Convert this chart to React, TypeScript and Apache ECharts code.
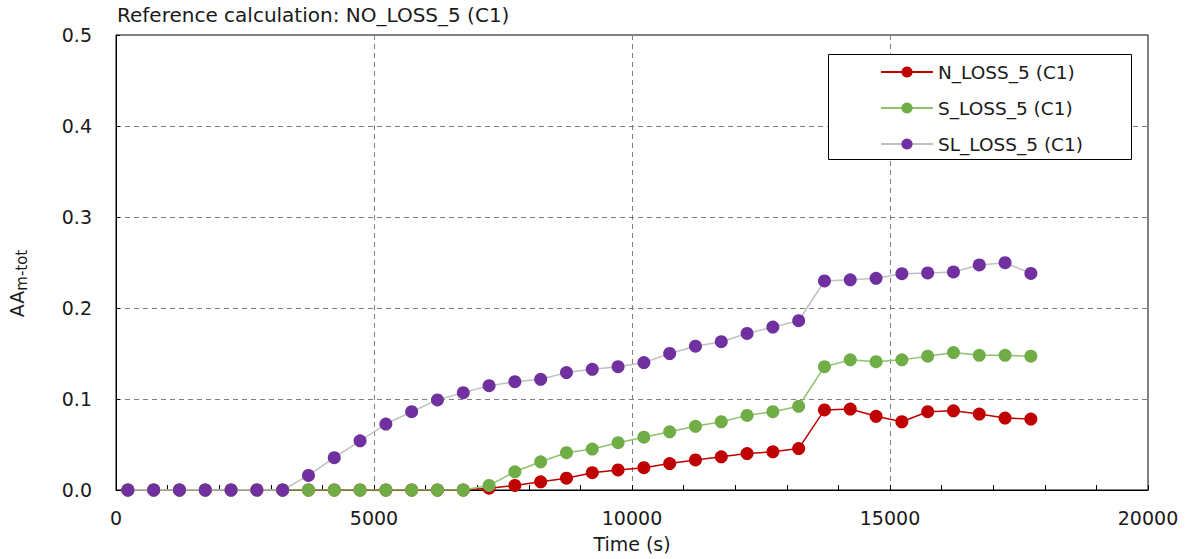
import { useEffect, useRef } from "react";
import * as echarts from "echarts";

// Sampling times (s)
const timeS = [
  230, 730, 1230, 1730, 2230, 2730, 3230, 3730, 4230, 4730, 5230, 5730,
  6230, 6730, 7230, 7730, 8230, 8730, 9230, 9730, 10230, 10730, 11230, 11730,
  12230, 12730, 13230, 13730, 14230, 14730, 15230, 15730, 16230, 16730, 17230, 17730,
];

// AA m-tot values per case
const nLoss = [
  0, 0, 0, 0, 0, 0, 0, 0, 0, 0, 0, 0,
  0, 0, 0.002, 0.005, 0.009, 0.013, 0.019, 0.022, 0.0245, 0.029, 0.033, 0.0365,
  0.04, 0.042, 0.0455, 0.088, 0.089, 0.081, 0.075, 0.086, 0.087, 0.0835, 0.079, 0.078,
];
const sLoss = [
  0, 0, 0, 0, 0, 0, 0, 0, 0, 0, 0, 0,
  0, 0, 0.005, 0.02, 0.031, 0.041, 0.045, 0.052, 0.058, 0.064, 0.07, 0.075,
  0.082, 0.086, 0.092, 0.1355, 0.143, 0.141, 0.143, 0.147, 0.151, 0.148, 0.148, 0.147,
];
const slLoss = [
  0, 0, 0, 0, 0, 0, 0, 0.016, 0.0355, 0.054, 0.0725, 0.086,
  0.099, 0.107, 0.1146, 0.119, 0.1216, 0.129, 0.1326, 0.1355, 0.14, 0.15, 0.158, 0.163,
  0.172, 0.179, 0.186, 0.2297, 0.231, 0.2326, 0.2377, 0.2385, 0.2396, 0.2473, 0.2498, 0.238,
];

const seriesNames = ["N_LOSS_5 (C1)", "S_LOSS_5 (C1)", "SL_LOSS_5 (C1)"];
const seriesValues = [nLoss, sLoss, slLoss];
const markerColors = ["#c00000", "#70ad47", "#7030a0"];
const lineColors = ["#c00000", "#8cc46b", "#c0c0c0"];

const FONT = "'DejaVu Sans', 'Noto Sans', sans-serif";
const TEXT = "#1a1a1a";

export default function App() {
  const ref = useRef<HTMLDivElement | null>(null);

  useEffect(() => {
    if (!ref.current) return;
    const chart = echarts.init(ref.current, null, { renderer: "svg" });

    const series = seriesNames.map((name, k) => ({
      name,
      type: "line",
      data: timeS.map((t, i) => [t, seriesValues[k][i]]),
      symbol: "circle",
      symbolSize: 13,
      showAllSymbol: true,
      itemStyle: { color: markerColors[k] },
      lineStyle: { color: lineColors[k], width: 1.5 },
      z: 2 + k,
    }));

    chart.setOption({
      animation: false,
      backgroundColor: "#ffffff",
      textStyle: { fontFamily: FONT },
      title: {
        text: "Reference calculation: NO_LOSS_5 (C1)",
        left: 117,
        top: 5,
        padding: 0,
        textStyle: { fontFamily: FONT, fontSize: 20, fontWeight: "normal", color: TEXT },
      },
      grid: {
        left: 116,
        right: 41,
        top: 35,
        bottom: 69,
        containLabel: false,
        outerBoundsMode: "none",
        show: true,
        borderColor: "#000",
        borderWidth: 1,
      },
      legend: {
        orient: "vertical",
        left: 880,
        top: 61,
        padding: 0,
        itemWidth: 52,
        itemHeight: 14,
        itemGap: 14,
        z: 5,
        textStyle: { fontFamily: FONT, fontSize: 18.5, lineHeight: 22, color: TEXT },
        data: seriesNames,
      },
      graphic: [
        {
          type: "rect",
          z: 4,
          shape: { x: 828.5, y: 54.5, width: 303, height: 105 },
          style: { fill: "#ffffff", stroke: "#000000", lineWidth: 1 },
        },
      ],
      xAxis: {
        type: "value",
        min: 0,
        max: 20000,
        interval: 5000,
        name: "Time (s)",
        nameLocation: "middle",
        nameGap: 44,
        nameTextStyle: { fontFamily: FONT, fontSize: 19, color: TEXT },
        axisLine: { show: true, lineStyle: { color: "#000", width: 1 } },
        axisTick: { show: true, inside: true, length: 5, lineStyle: { color: "#000" } },
        minorTick: { show: true, splitNumber: 5, length: 5, lineStyle: { color: "#000" } },
        axisLabel: {
          fontFamily: FONT,
          fontSize: 19,
          color: TEXT,
          margin: 18,
          formatter: (v: number) => String(v),
        },
        splitLine: { show: true, lineStyle: { color: "#808080", type: [5, 4], width: 1 } },
      },
      yAxis: {
        type: "value",
        min: 0,
        max: 0.5,
        interval: 0.1,
        name: "{a|AA}{b|m-tot}",
        nameLocation: "middle",
        nameGap: 86,
        nameTextStyle: {
          fontFamily: FONT,
          color: TEXT,
          padding: [0, 42, 0, 0],
          rich: {
            a: { fontFamily: FONT, fontSize: 19, lineHeight: 26, color: TEXT },
            b: { fontFamily: FONT, fontSize: 15, lineHeight: 16, padding: [10, 0, 0, 0], color: TEXT },
          },
        },
        axisLine: { show: true, lineStyle: { color: "#000", width: 1 } },
        axisTick: { show: true, inside: true, length: 4, lineStyle: { color: "#000" } },
        axisLabel: {
          fontFamily: FONT,
          fontSize: 19,
          color: TEXT,
          margin: 24,
          formatter: (v: number) => v.toFixed(1),
        },
        splitLine: { show: true, lineStyle: { color: "#808080", type: [5, 4], width: 1 } },
      },
      series,
    });

    return () => chart.dispose();
  }, []);

  return (
    <div
      ref={ref}
      style={{ position: "fixed", left: 0, top: 0, width: 1189, height: 559 }}
    />
  );
}
